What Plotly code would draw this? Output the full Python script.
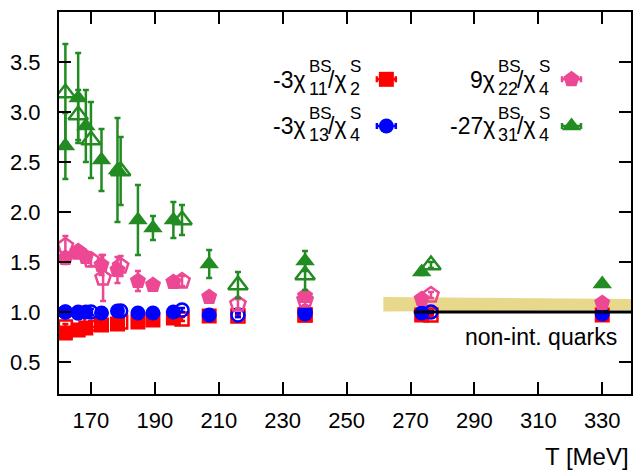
import plotly.graph_objects as go

# ---- data ------------------------------------------------------------------
# two lattice data sets per ratio: filled symbols (set A) and open symbols (set B)
T_A = [162.0, 166.0, 168.4, 173.3, 178.3, 184.7, 189.4, 195.8, 207.0, 237.0, 273.5, 330.0]
T_B = [162.0, 166.0, 170.0, 173.8, 179.3, 198.5, 216.0, 237.0, 276.4]

# -3 chi11^BS / chi2^S
r11_A = [0.79, 0.82, 0.84, 0.87, 0.88, 0.90, 0.92, 0.94, 0.96, 0.97, 0.97, 0.97]
r11_A_err = [0.03, 0.03, 0.02, 0.02, 0.02, 0.02, 0.02, 0.01, 0.01, 0.01, 0.01, 0.01]
T_r11_B = [162.0, 170.0, 179.3, 198.5, 216.0, 237.0, 276.4]
r11_B = [0.85, 0.88, 0.90, 0.93, 0.96, 0.97, 0.97]
r11_B_err = [0.03, 0.03, 0.02, 0.02, 0.01, 0.01, 0.01]

# -3 chi13^BS / chi4^S
r13_A = [1.00, 1.00, 1.00, 0.99, 1.01, 0.99, 0.99, 1.00, 0.97, 0.98, 0.99, 0.98]
r13_A_err = [0.03, 0.03, 0.02, 0.02, 0.02, 0.02, 0.02, 0.01, 0.01, 0.01, 0.01, 0.01]
T_r13_B = [162.0, 166.0, 170.0, 179.3, 198.5, 216.0, 237.0, 276.4]
r13_B = [1.00, 0.99, 1.00, 1.01, 1.02, 0.97, 1.00, 1.00]
r13_B_err = [0.03, 0.03, 0.03, 0.02, 0.02, 0.02, 0.01, 0.01]

# 9 chi22^BS / chi4^S
r22_A = [1.54, 1.60, 1.55, 1.47, 1.42, 1.31, 1.27, 1.30, 1.15, 1.16, 1.13, 1.09]
r22_A_err = [0.06, 0.05, 0.05, 0.10, 0.13, 0.10, 0.03, 0.03, 0.03, 0.03, 0.02, 0.02]
r22_B = [1.66, 1.60, 1.52, 1.34, 1.46, 1.31, 1.08, 1.12, 1.17]
r22_B_err = [0.10, 0.05, 0.06, 0.23, 0.10, 0.05, 0.05, 0.05, 0.03]

# -27 chi31^BS / chi4^S
r31_A = [2.66, 3.14, 2.86, 2.52, 2.42, 1.92, 1.84, 1.92, 1.48, 1.51, 1.40, 1.28]
r31_A_err = [0.33, 0.45, 0.36, 0.31, 0.52, 0.35, 0.12, 0.18, 0.14, 0.10, 0.03, 0.02]
T_r31_B = [162.0, 166.0, 170.0, 179.3, 198.5, 216.0, 237.0, 276.4]
r31_B = [3.19, 2.97, 2.72, 2.41, 1.92, 1.27, 1.37, 1.47]
r31_B_err = [0.49, 0.25, 0.38, 0.34, 0.15, 0.13, 0.15, 0.03]

# HRG/perturbative band and free-quark limit
band_T = [261.5, 300.0, 339.0]
band_lo = [1.006, 1.013, 1.02]
band_hi = [1.15, 1.14, 1.13]
free_T = [271.0, 339.0]
free_val = [1.0, 1.0]

x_ticks = [170, 190, 210, 230, 250, 270, 290, 310, 330]
y_ticks = [0.5, 1.0, 1.5, 2.0, 2.5, 3.0, 3.5]

RED = "#ff0000"
BLUE = "#0000ff"
PINK = "#ec4894"
GREEN = "#228b22"
BAND = "#e8d88c"
FONT = "Liberation Sans, Arial, Helvetica, sans-serif"

W, H = 636, 472
ML, MR, MT, MB = 59, 3, 12, 78
PW, PH = W - ML - MR, H - MT - MB


def px_x(px):
    return (px - ML) / PW


def px_y(py):
    return (H - MB - py) / PH


fig = go.Figure()

# band
fig.add_trace(go.Scatter(x=band_T, y=band_lo, mode="lines", line=dict(width=0),
                         showlegend=False, hoverinfo="skip"))
fig.add_trace(go.Scatter(x=band_T, y=band_hi, mode="lines", line=dict(width=0),
                         fill="tonexty", fillcolor=BAND, showlegend=False, hoverinfo="skip"))


def pts(x, y, err, color, symbol, size, open_=False):
    marker = dict(color=color, symbol=symbol, size=size)
    if open_:
        marker["line"] = dict(color=color, width=2.5)
    else:
        marker["line"] = dict(width=0)
    fig.add_trace(go.Scatter(
        x=x, y=y, mode="markers", marker=marker, showlegend=False,
        error_y=dict(type="data", array=err, color=color, thickness=2.5, width=3),
    ))


pts(T_A, r11_A, r11_A_err, RED, "square", 15)
pts(T_r11_B, r11_B, r11_B_err, RED, "square-open", 13, True)
pts(T_A, r13_A, r13_A_err, BLUE, "circle", 15)
pts(T_r13_B, r13_B, r13_B_err, BLUE, "circle-open", 13, True)
pts(T_A, r22_A, r22_A_err, PINK, "pentagon", 17)
pts(T_B, r22_B, r22_B_err, PINK, "pentagon-open", 16, True)
pts(T_A, r31_A, r31_A_err, GREEN, "triangle-up", 17)
pts(T_r31_B, r31_B, r31_B_err, GREEN, "triangle-up-open", 17, True)

# free quark limit
fig.add_trace(go.Scatter(x=free_T, y=free_val, mode="lines",
                         line=dict(color="black", width=3), showlegend=False))

# ---- key: symbols on an overlay axis spanning the plot area ----------------
key_x = [px_x(387.5), px_x(387.5), px_x(573.3), px_x(573.3)]
key_y = [px_y(79.3), px_y(126.0), px_y(79.3), px_y(126.0)]
key_style = [(RED, "square", 15), (BLUE, "circle", 15), (PINK, "pentagon", 17), (GREEN, "triangle-up", 17)]
for kx, ky, (c, s, sz) in zip(key_x, key_y, key_style):
    fig.add_trace(go.Scatter(
        x=[kx], y=[ky], xaxis="x2", yaxis="y2", mode="markers",
        marker=dict(color=c, symbol=s, size=sz, line=dict(width=0)), showlegend=False,
        error_x=dict(type="constant", value=9.5 / PW, color=c, thickness=2.5, width=3),
    ))

annotations = []


def txt(s, px, py, size, anchor):
    annotations.append(dict(text=s, x=px_x(px), y=px_y(py), xref="paper", yref="paper",
                            xanchor=anchor, yanchor="middle", showarrow=False,
                            font=dict(family=FONT, size=size, color="black")))


def key_label(pre, sub1, sub2, x_pre_end, x_slash, x_s2, yc):
    txt(pre, x_pre_end, yc, 23, "right")
    txt("BS", x_pre_end - 1, yc - 13, 17, "left")
    txt(sub1, x_pre_end - 1, yc + 9, 18, "left")
    txt("/\u03c7", x_slash, yc, 23, "left")
    txt("S", x_s2 - 1, yc - 13, 17, "left")
    txt(sub2, x_s2 - 1, yc + 9, 18, "left")


key_label("-3\u03c7", "11", "2", 309, 327, 350, 80)
key_label("-3\u03c7", "13", "4", 309, 327, 350, 126)
key_label("9\u03c7", "22", "4", 499, 517, 540, 80)
key_label("-27\u03c7", "31", "4", 499, 517, 540, 126)

txt("non-int. quarks", 621, 337, 23, "right")
txt("T [MeV]", 633, 456, 24, "right")

axis_common = dict(
    showline=True, linecolor="black", linewidth=2, mirror="ticks",
    ticks="inside", ticklen=12, tickwidth=2, tickcolor="black",
    showgrid=False, zeroline=False,
    tickfont=dict(family=FONT, size=22, color="black"),
)

fig.update_layout(
    width=W, height=H,
    margin=dict(l=ML, r=MR, t=MT, b=MB, pad=0),
    paper_bgcolor="white", plot_bgcolor="white",
    xaxis=dict(range=[160, 339], tickvals=x_ticks, ticklabelstandoff=6, **axis_common),
    yaxis=dict(range=[0.18, 4.0], tickvals=y_ticks, ticktext=[f"{v:.1f}" for v in y_ticks],
               ticklabelstandoff=12, **axis_common),
    xaxis2=dict(range=[0, 1], overlaying="x", visible=False),
    yaxis2=dict(range=[0, 1], overlaying="y", visible=False),
    annotations=annotations,
    showlegend=False,
)

fig.write_html("out.html")
